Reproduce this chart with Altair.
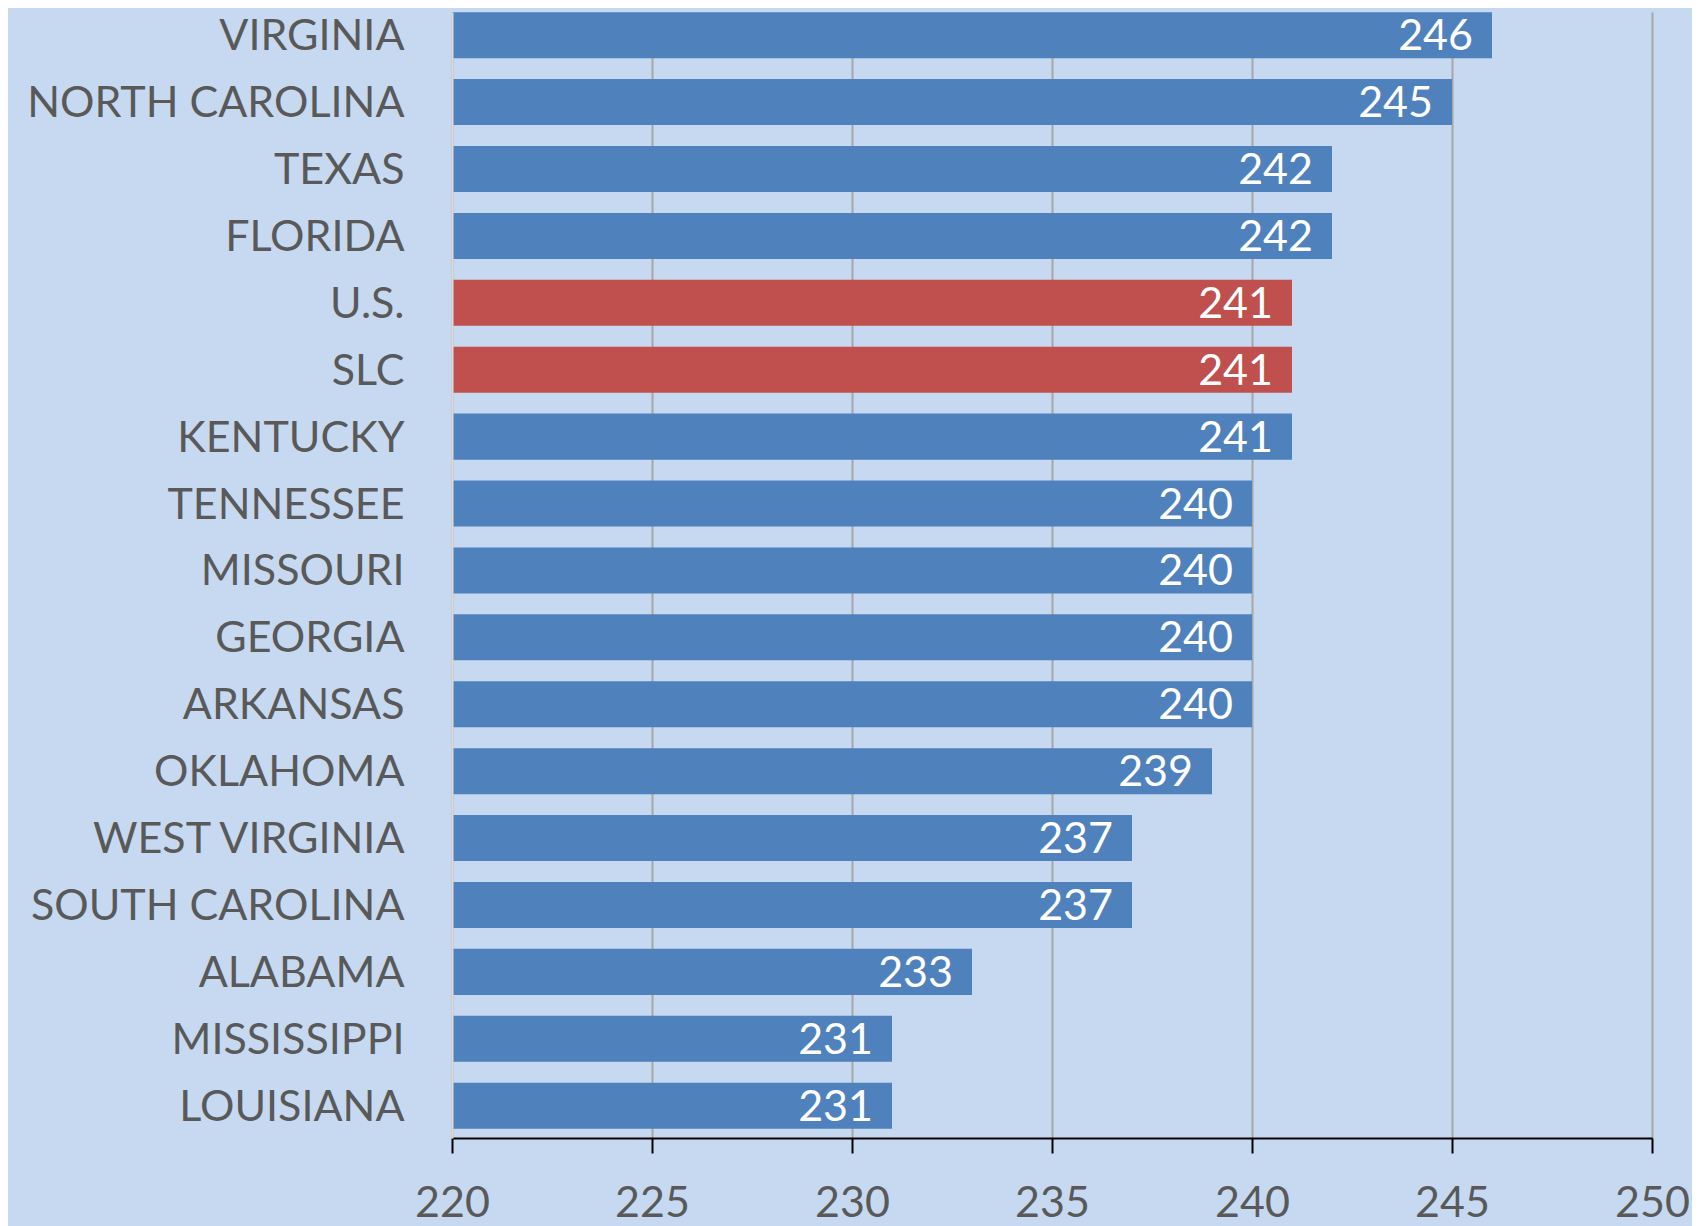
import altair as alt
import pandas as pd

states = ["VIRGINIA", "NORTH CAROLINA", "TEXAS", "FLORIDA", "U.S.", "SLC",
          "KENTUCKY", "TENNESSEE", "MISSOURI", "GEORGIA", "ARKANSAS",
          "OKLAHOMA", "WEST VIRGINIA", "SOUTH CAROLINA", "ALABAMA",
          "MISSISSIPPI", "LOUISIANA"]
scores = [246, 245, 242, 242, 241, 241, 241, 240, 240, 240, 240, 239,
          237, 237, 233, 231, 231]
highlight = ["U.S.", "SLC"]
x_ticks = [220, 225, 230, 235, 240, 245, 250]

df = pd.DataFrame({"state": states, "score": scores})
df["group"] = ["avg" if s in highlight else "state" for s in states]

FONT = "Lato"
BG = "#C6D9F1"

y_enc = alt.Y("state:N", sort=states, title=None,
              scale=alt.Scale(paddingInner=0.312, paddingOuter=0.071,
                              align=0.02),
              axis=alt.Axis(labelFontSize=43, labelColor="#595959",
                            labelFont=FONT, labelPadding=48, ticks=False,
                            labelOffset=2, labelLimit=600,
                            domainColor="#DCDCDC", domainWidth=2, zindex=1))
x_scale = alt.Scale(domain=[x_ticks[0], x_ticks[-1]], zero=False, nice=False)

bars = alt.Chart(df).mark_bar().encode(
    x=alt.X("score:Q", scale=x_scale, title=None,
            axis=alt.Axis(values=x_ticks, labelFontSize=43,
                          labelColor="#595959", labelFont=FONT,
                          labelFlush=False, labelOverlap=False,
                          tickColor="black", tickSize=15, tickWidth=2,
                          domainColor="black", domainWidth=2,
                          labelPadding=29, grid=True, gridColor="#A6A6A6",
                          gridWidth=2)),
    x2=alt.X2(datum=x_ticks[0]),
    y=y_enc,
    color=alt.Color("group:N", legend=None,
                    scale=alt.Scale(domain=["state", "avg"],
                                    range=["#4F81BD", "#C0504D"])),
)

labels = alt.Chart(df).mark_text(align="right", baseline="middle", dx=-19,
                                 dy=2, color="white", fontSize=43,
                                 font=FONT).encode(
    x=alt.X("score:Q", scale=x_scale),
    y=alt.Y("state:N", sort=states),
    text=alt.Text("score:Q"),
)

chart = alt.layer(bars, labels).properties(
    width=1200, height=1126,
    background=BG,
    padding={"left": 444, "top": 4, "right": 40, "bottom": 95},
    autosize=alt.AutoSizeParams(type="none"),
).configure_view(stroke=None)

chart.save("out.html", embed_options={"renderer": "svg", "actions": False})
